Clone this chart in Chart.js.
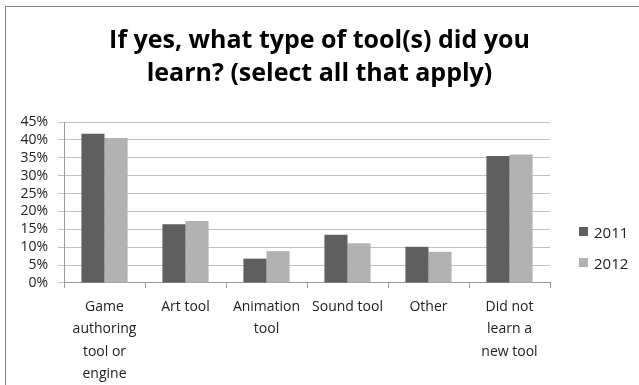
<!DOCTYPE html>
<html lang="en">
<head>
    <meta charset="UTF-8">
    <script src="https://cdn.jsdelivr.net/npm/chart.js"></script>
    <title>Tools learned</title>
    <style>
        body { margin: 0; background: #fff; }
        #wrap { position: relative; width: 639px; height: 385px; overflow: hidden; }
        #frame { position: absolute; left: 5px; top: 6px; width: 660px; height: 400px;
                 border-left: 1px solid #868686; border-top: 1px solid #868686; }
        #mychart { position: absolute; left: 0; top: 0; }
        #legenda { position: absolute; left: 579px; top: 216px; font-family: "Open Sans", sans-serif;
                   font-size: 15px; color: #222; }
        .item { height: 31px; display: flex; align-items: center; }
        .box { width: 9px; height: 9px; margin-right: 6px; }
    </style>
</head>
<body>
<div id="wrap">
    <div id="frame"></div>
    <canvas id="mychart" width="639" height="385"></canvas>
    <div id="legenda"></div>
</div>

<script>
    const categorias = [
        ['Game', 'authoring', 'tool or', 'engine'],
        ['Art tool'],
        ['Animation', 'tool'],
        ['Sound tool'],
        ['Other'],
        ['Did not', 'learn a', 'new tool']
    ];
    const anos = ['2011', '2012'];
    const valores2011 = [41.7, 16.4, 6.8, 13.5, 10.1, 35.5];
    const valores2012 = [40.5, 17.3, 8.9, 11.1, 8.7, 35.9];
    const cores = ['#5f5f5f', '#b2b2b2'];

    const fonte = '"Open Sans", sans-serif';

    // legenda feita em html, a direita do grafico
    const legenda = document.getElementById('legenda');
    for (let i = 0; i < anos.length; i++) {
        legenda.innerHTML += `<div class="item"><div class="box" style="background:${cores[i]}"></div>${anos[i]}</div>`;
    }

    const data = {
        labels: categorias,
        datasets: [
            { label: anos[0], data: valores2011, backgroundColor: cores[0] },
            { label: anos[1], data: valores2012, backgroundColor: cores[1] }
        ]
    };

    const config = {
        type: 'bar',
        data: data,
        options: {
            responsive: false,
            animation: false,
            categoryPercentage: 0.57,
            barPercentage: 1,
            layout: { padding: { left: 0, right: 0, top: 0, bottom: -8 } },
            plugins: {
                legend: { display: false },
                tooltip: { enabled: false },
                title: {
                    display: true,
                    text: ['If yes, what type of tool(s) did you', 'learn? (select all that apply)'],
                    color: '#000',
                    font: { family: fonte, size: 25, weight: 'bold', lineHeight: 1.32 },
                    padding: { top: 24, bottom: 32 }
                }
            },
            scales: {
                x: {
                    grid: { drawOnChartArea: false, drawTicks: true, tickLength: 5, color: '#9a9a9a' },
                    border: { color: '#9a9a9a' },
                    ticks: {
                        autoSkip: false, maxRotation: 0, padding: 8, color: '#222',
                        font: { family: fonte, size: 14, lineHeight: 1.59 }
                    }
                },
                y: {
                    min: 0, max: 45,
                    grid: { color: '#c0c0c0', tickLength: 6 },
                    border: { color: '#9a9a9a' },
                    afterFit: function (s) { s.width = 64; },
                    ticks: {
                        autoSkip: false, stepSize: 5, padding: 10, color: '#222',
                        font: { family: fonte, size: 14 },
                        callback: function (v) { return v + '%'; }
                    }
                },
                // eixo vazio so para reservar espaco da legenda
                espaco: {
                    position: 'right',
                    grid: { drawOnChartArea: false, drawTicks: false },
                    border: { display: false },
                    ticks: { display: false },
                    afterFit: function (s) { s.width = 89; }
                }
            }
        }
    };

    const mychart = new Chart(document.getElementById('mychart'), config);
</script>
</body>
</html>
